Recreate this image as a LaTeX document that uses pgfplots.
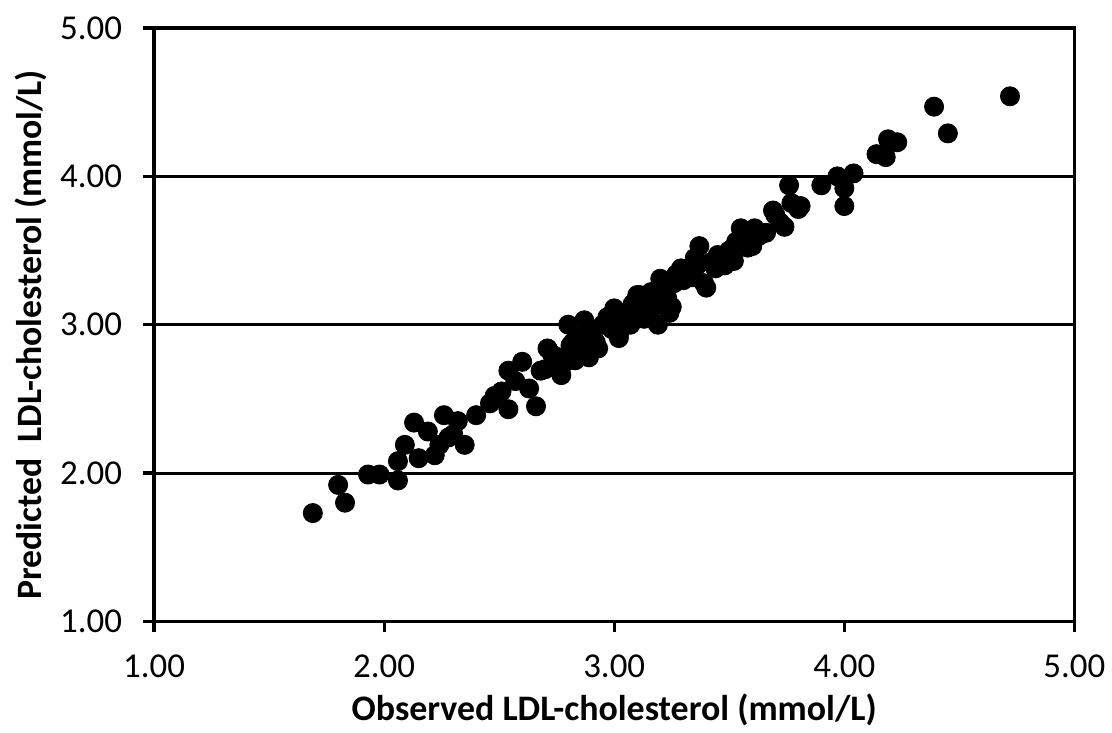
\documentclass[border=0pt]{standalone}
\usepackage{pgfplots}
\pgfplotsset{compat=1.18}
\usepackage{fontspec}
\setmainfont{Carlito}
\begin{document}
\begin{tikzpicture}
\begin{axis}[
  width=461.5pt, height=297.5pt, scale only axis,
  xmin=1, xmax=5, ymin=1, ymax=5,
  xtick={1,2,3,4,5}, ytick={1,2,3,4,5},
  xtick pos=bottom, ytick pos=left,
  /pgf/number format/fixed,
  /pgf/number format/fixed zerofill,
  /pgf/number format/precision=2,
  /pgf/number format/assume math mode=true,
  ticklabel style={font=\fontsize{17.5}{20}\selectfont},
  tick align=outside, major tick length=5.5pt,
  tick style={black, line width=1.6pt},
  axis line style={line width=1.8pt},
  ymajorgrids, grid style={black, line width=1.5pt},
  xlabel={\textbf{Observed LDL-cholesterol (mmol/L)}},
  ylabel={\textbf{Predicted\ \ LDL-cholesterol (mmol/L)}},
  xlabel style={font=\fontsize{18}{20}\selectfont, yshift=-1pt},
  ylabel style={font=\fontsize{17.9}{20}\selectfont, xshift=-5pt},
  xticklabel style={yshift=-8pt},
  yticklabel style={xshift=-7pt},
  clip=false,
]
\addplot[only marks, mark=*, mark size=4.8pt, black] coordinates {
(1.69,1.73) (1.80,1.92) (1.83,1.80) (1.93,1.99) (1.98,1.99)
(2.06,1.95) (2.06,2.08) (2.09,2.19) (2.13,2.34) (2.15,2.10)
(2.19,2.28) (2.26,2.39) (2.32,2.35) (2.35,2.19) (2.24,2.19)
(2.22,2.12) (2.28,2.24) (2.30,2.26) (2.40,2.39) (2.46,2.47)
(2.51,2.55) (2.54,2.69) (2.54,2.43) (2.60,2.75) (2.63,2.57)
(2.66,2.45) (2.68,2.69) (2.71,2.84) (2.77,2.66) (2.80,3.00)
(2.81,2.86) (2.87,3.03) (2.89,2.78) (2.93,2.84) (3.00,3.11)
(3.02,2.93) (3.02,2.91) (3.10,3.20) (3.13,3.04) (3.11,3.20)
(3.19,3.00) (3.24,3.08) (3.20,3.31) (3.29,3.38) (3.37,3.53)
(3.40,3.25) (3.39,3.28) (3.45,3.47) (3.52,3.43) (3.55,3.65)
(3.60,3.53) (3.63,3.60) (3.69,3.77) (3.74,3.66) (3.80,3.78)
(3.81,3.80) (3.90,3.94) (3.97,4.00) (4.00,3.92) (4.00,3.80)
(4.04,4.02) (4.14,4.15) (4.18,4.13) (4.19,4.25) (4.23,4.23)
(4.39,4.47) (4.45,4.29) (4.72,4.54) (3.76,3.94) (3.77,3.82)
(2.73,2.80) (2.75,2.72) (2.78,2.74) (2.82,2.88) (2.84,2.81)
(2.86,2.92) (2.90,2.95) (2.92,2.88) (2.95,3.00) (2.97,3.05)
(3.04,3.02) (3.06,3.08) (3.08,3.14) (3.12,3.10) (3.15,3.16)
(3.16,3.22) (3.18,3.13) (3.21,3.24) (3.23,3.18) (3.26,3.28)
(3.27,3.34) (3.30,3.30) (3.32,3.36) (3.34,3.32) (3.36,3.40)
(3.42,3.42) (3.44,3.38) (3.47,3.44) (3.50,3.50) (3.53,3.56)
(3.57,3.58) (3.58,3.52) (3.61,3.65) (3.66,3.62) (3.70,3.74)
(3.72,3.69) (2.88,2.82) (2.99,2.97) (3.07,3.00) (3.14,3.06)
(2.70,2.70) (2.76,2.78) (2.83,2.76) (2.57,2.62) (2.48,2.52)
(3.35,3.45) (3.48,3.40) (3.25,3.12)
};
\end{axis}
% white margin above and to the left, as in the original
\path (current bounding box.north west) ++(-4pt,5pt);
\end{tikzpicture}
\end{document}
